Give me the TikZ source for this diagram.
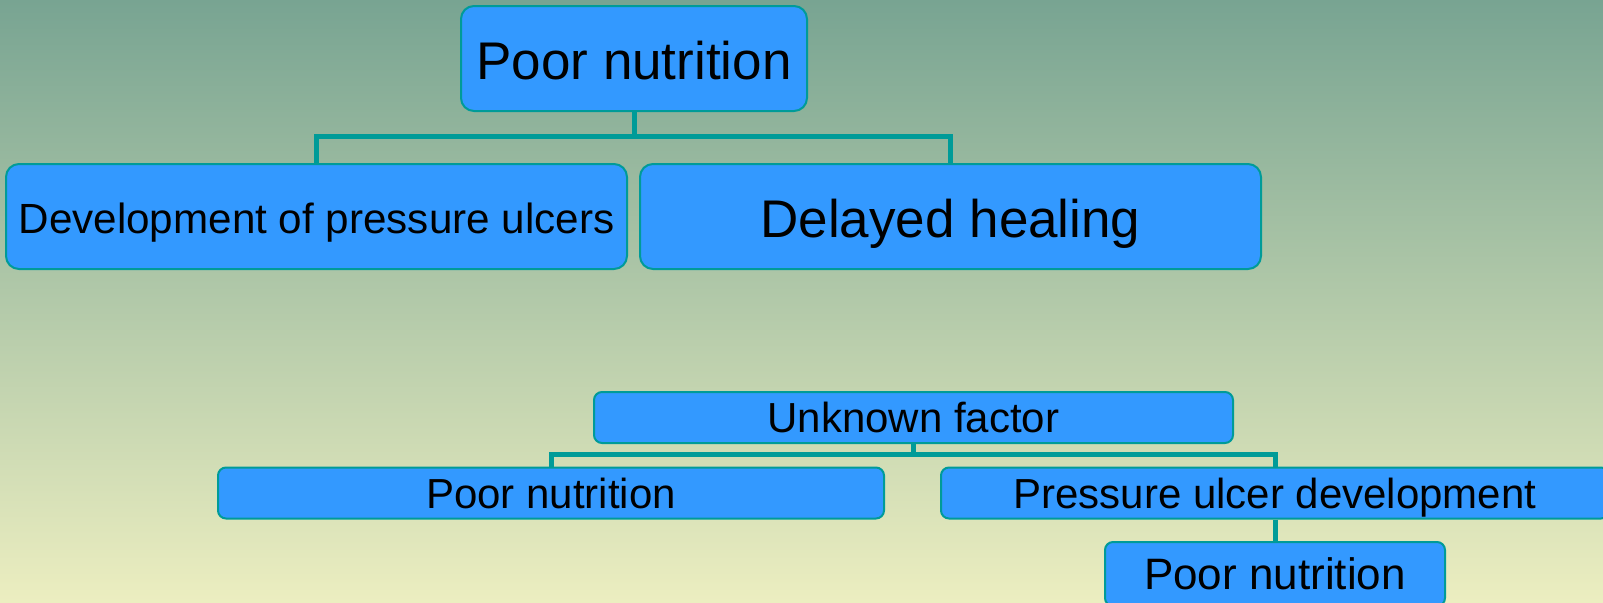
\documentclass[tikz,border=0pt]{standalone}
\usepackage{fontspec}
\setmainfont{Liberation Sans}
\usepackage{tikz}
\usetikzlibrary{positioning}
\definecolor{bgtop}{RGB}{120,164,146}
\definecolor{bgbot}{RGB}{236,238,192}
\definecolor{boxblue}{RGB}{51,153,255}
\definecolor{linkteal}{RGB}{0,155,152}
\tikzset{chartbox/.style = {draw = linkteal, line width = 1pt, fill = boxblue,
    inner sep = 0, align = center, text = black, text depth = 0pt},
  bigbox/.style = {chartbox, rounded corners = 6.5pt},
  flatbox/.style = {chartbox, rounded corners = 4pt},
  link/.style = {draw = linkteal, line width = 2.5pt}}

\begin{document}
\begin{tikzpicture}[x = 0.5pt, y = -0.5pt]
      \useasboundingbox (0, 0) rectangle (1603, 602);
      \clip (0, 0) rectangle (1603, 602);
      \shade [top color = bgtop, bottom color = bgbot] (0, 0) rectangle (1603, 602);

      % upper chart
      \node [bigbox, minimum width = 173pt, minimum height = 52.5pt, text height = 21pt,
        font = \fontsize{26.5}{30}\selectfont] (pnTop) at (634, 58.5) {Poor nutrition};
      \node [bigbox, minimum width = 310.5pt, minimum height = 52.5pt, text height = 17.1pt,
        font = \fontsize{21.1}{24}\selectfont] (devPU) at (316.5, 216.5) {Development of pressure ulcers};
      \node [bigbox, minimum width = 310.5pt, minimum height = 52.5pt, text height = 21pt,
        font = \fontsize{26.5}{30}\selectfont] (delayHeal) at (950.5, 216.5) {Delayed healing};

      \coordinate (busTop) at (634, 136);
      \draw [link] (pnTop) -- (busTop) -| (devPU);
      \draw [link] (busTop) -| (delayHeal);

      % lower chart
      \node [flatbox, minimum width = 319.5pt, minimum height = 25.5pt, text height = 15.4pt,
        font = \fontsize{21}{24}\selectfont] (unkFactor) at (913.5, 417.5) {Unknown factor};
      \node [flatbox, minimum width = 333pt, minimum height = 25.5pt, text height = 15.4pt,
        font = \fontsize{21}{24}\selectfont] (pnLeft) at (551, 493) {Poor nutrition};
      \node [flatbox, minimum width = 334pt, minimum height = 25.5pt, text height = 15.4pt,
        font = \fontsize{21}{24}\selectfont] (puDev) at (1275, 493) {Pressure ulcer development};
      \node [flatbox, minimum width = 170pt, minimum height = 32pt, text height = 15.8pt,
        font = \fontsize{22}{25}\selectfont] (pnRight) at (1275, 574) {Poor nutrition};

      \coordinate (busLow) at (913.5, 454);
      \draw [link] (unkFactor) -- (busLow) -| (pnLeft);
      \draw [link] (busLow) -| (puDev);
      \draw [link] (puDev) -- (pnRight);
    \end{tikzpicture}
\end{document}
